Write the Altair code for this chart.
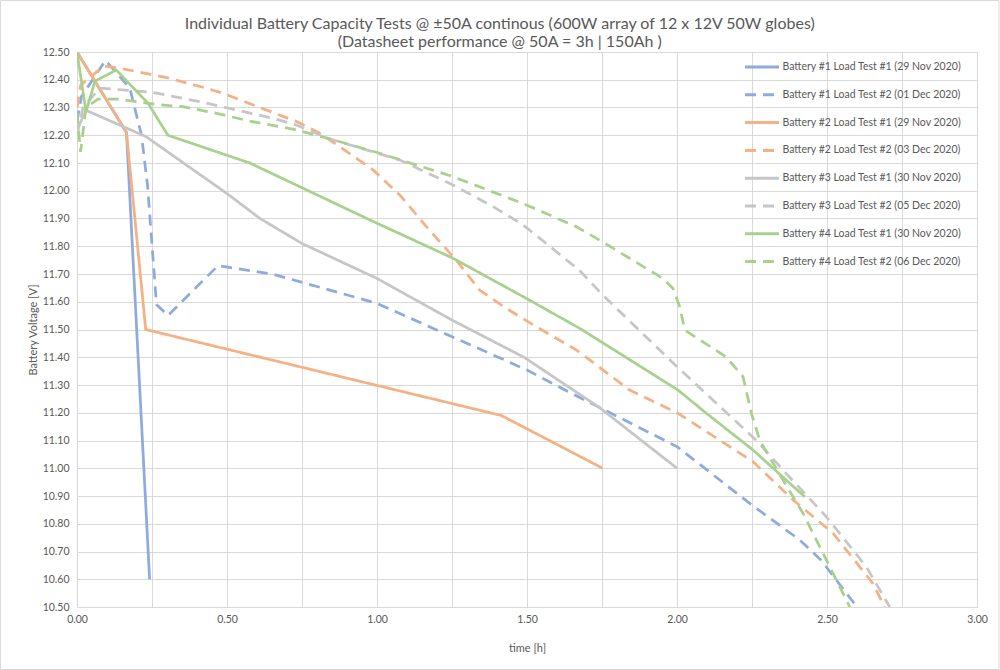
import altair as alt
import pandas as pd

series_names = [
    "Battery #1 Load Test #1 (29 Nov 2020)",
    "Battery #1 Load Test #2 (01 Dec 2020)",
    "Battery #2 Load Test #1 (29 Nov 2020)",
    "Battery #2 Load Test #2 (03 Dec 2020)",
    "Battery #3 Load Test #1 (30 Nov 2020)",
    "Battery #3 Load Test #2 (05 Dec 2020)",
    "Battery #4 Load Test #1 (30 Nov 2020)",
    "Battery #4 Load Test #2 (06 Dec 2020)",
]
series_colors = ["#8FAADC", "#8FAADC", "#F4B183", "#F4B183",
                 "#C6C6C6", "#C6C6C6", "#A9D18E", "#A9D18E"]
series_dashes = [[1, 0], [11, 7], [1, 0], [11, 7],
                 [1, 0], [11, 7], [1, 0], [11, 7]]

# Battery #1 Load Test #1
b1t1_t = [0.0, 0.165, 0.242]
b1t1_v = [12.50, 12.21, 10.60]
# Battery #1 Load Test #2
b1t2_t = [0.0, 0.015, 0.095, 0.176, 0.215, 0.235, 0.265, 0.303, 0.47, 0.65, 0.80,
          1.00, 1.25, 1.50, 1.63, 1.78, 2.00, 2.25, 2.41, 2.48, 2.60]
b1t2_v = [12.25, 12.34, 12.47, 12.37, 12.20, 12.02, 11.59, 11.55, 11.73, 11.70, 11.655,
          11.594, 11.474, 11.354, 11.28, 11.198, 11.078, 10.867, 10.741, 10.669, 10.50]
# Battery #2 Load Test #1
b2t1_t = [0.0, 0.165, 0.229, 1.415, 1.752]
b2t1_v = [12.50, 12.21, 11.50, 11.19, 11.00]
# Battery #2 Load Test #2
b2t2_t = [0.0, 0.012, 0.09, 0.15, 0.242, 0.309, 0.43, 0.49, 0.61, 0.73, 0.80, 0.876,
          0.987, 1.076, 1.165, 1.264, 1.342, 1.431, 1.531, 1.665, 1.842, 2.00, 2.253,
          2.387, 2.52, 2.653, 2.692]
b2t2_v = [12.30, 12.38, 12.45, 12.44, 12.42, 12.405, 12.37, 12.35, 12.30, 12.25, 12.213,
          12.159, 12.075, 11.985, 11.87, 11.75, 11.642, 11.576, 11.51, 11.426, 11.282,
          11.20, 11.024, 10.886, 10.766, 10.585, 10.50]
# Battery #3 Load Test #1
b3t1_t = [0.0, 0.03, 0.23, 0.50, 0.61, 0.75, 1.00, 1.15, 1.25, 1.49, 1.74, 2.00]
b3t1_v = [12.22, 12.29, 12.195, 11.99, 11.90, 11.81, 11.684, 11.594, 11.534, 11.40, 11.22, 11.00]
# Battery #3 Load Test #2
b3t2_t = [0.0, 0.02, 0.076, 0.25, 0.287, 0.409, 0.531, 0.653, 0.731, 0.837, 1.076,
          1.253, 1.387, 1.487, 1.674, 1.758, 2.00, 2.131, 2.265, 2.365, 2.498, 2.631, 2.709]
b3t2_v = [12.20, 12.30, 12.37, 12.355, 12.347, 12.321, 12.291, 12.261, 12.237, 12.189, 12.111,
          12.021, 11.943, 11.877, 11.714, 11.618, 11.366, 11.234, 11.10, 10.98, 10.825, 10.645, 10.50]
# Battery #4 Load Test #1
b4t1_t = [0.0, 0.03, 0.06, 0.131, 0.237, 0.303, 0.576, 0.976, 1.253, 1.498, 1.676,
          2.003, 2.098, 2.253, 2.426]
b4t1_v = [12.50, 12.285, 12.395, 12.435, 12.315, 12.20, 12.10, 11.895, 11.757, 11.612, 11.504,
          11.282, 11.198, 11.066, 10.897]
# Battery #4 Load Test #2
b4t2_t = [0.0, 0.012, 0.03, 0.07, 0.142, 0.265, 0.353, 0.465, 0.576, 0.72, 0.837, 1.009,
          1.253, 1.498, 1.665, 1.742, 1.953, 1.987, 2.009, 2.026, 2.165, 2.22, 2.248, 2.276,
          2.353, 2.42, 2.476, 2.576]
b4t2_v = [12.28, 12.14, 12.30, 12.33, 12.33, 12.311, 12.303, 12.279, 12.251, 12.222, 12.189, 12.135,
          12.051, 11.949, 11.87, 11.822, 11.684, 11.648, 11.582, 11.498, 11.40, 11.33, 11.198, 11.10,
          10.958, 10.838, 10.717, 10.50]

x_ticks = [0.0, 0.25, 0.5, 0.75, 1.0, 1.25, 1.5, 1.75, 2.0, 2.25, 2.5, 2.75, 3.0]
y_ticks = [10.5, 10.6, 10.7, 10.8, 10.9, 11.0, 11.1, 11.2, 11.3, 11.4, 11.5,
           11.6, 11.7, 11.8, 11.9, 12.0, 12.1, 12.2, 12.3, 12.4, 12.5]

all_t = [b1t1_t, b1t2_t, b2t1_t, b2t2_t, b3t1_t, b3t2_t, b4t1_t, b4t2_t]
all_v = [b1t1_v, b1t2_v, b2t1_v, b2t2_v, b3t1_v, b3t2_v, b4t1_v, b4t2_v]

rows = []
for name, ts, vs in zip(series_names, all_t, all_v):
    for i, (t, v) in enumerate(zip(ts, vs)):
        rows.append({"series": name, "t": t, "v": v, "idx": i})
df = pd.DataFrame(rows)

FONT = "Lato"
TXT = "#595959"
GRID = "#D9D9D9"

legend = alt.Legend(
    title=None, orient="none", legendX=666.5, legendY=-3.5,
    symbolType="stroke", symbolSize=1156, symbolStrokeWidth=3,
    labelFont=FONT, labelFontSize=10.5, labelColor=TXT, labelOffset=2,
    rowPadding=2.8, padding=0, labelLimit=400,
)

lines = alt.Chart(df).mark_line(strokeWidth=2.75, clip=True).encode(
    x=alt.X("t:Q", scale=alt.Scale(domain=[0, 3], nice=False),
            axis=alt.Axis(values=x_ticks,
                          labelExpr="abs(datum.value*2 - round(datum.value*2)) < 0.001 ? format(datum.value, '.2f') : ''",
                          title="time [h]", titleY=41, titleBaseline="middle",
                          labelPadding=7, labelFlush=False)),
    y=alt.Y("v:Q", scale=alt.Scale(domain=[10.5, 12.5], nice=False, zero=False),
            axis=alt.Axis(values=y_ticks, format=".2f", title="Battery Voltage [V]",
                          titleX=-44, titleBaseline="middle", labelPadding=8, labelFlush=False)),
    color=alt.Color("series:N", scale=alt.Scale(domain=series_names, range=series_colors), legend=legend),
    strokeDash=alt.StrokeDash("series:N", scale=alt.Scale(domain=series_names, range=series_dashes), legend=legend),
    order=alt.Order("idx:Q"),
)

border = alt.Chart(pd.DataFrame({"a": [0]})).mark_rect(
    fill="transparent", stroke=GRID, strokeWidth=1, clip=False
).encode(x=alt.value(-76.5), x2=alt.value(922), y=alt.value(-51.5), y2=alt.value(617.5))

chart = alt.layer(border, lines).properties(
    width=900, height=555,
    autosize=alt.AutoSizeParams(type="none"),
    padding={"left": 77, "top": 52, "right": 23, "bottom": 63},
    background="white",
    title=alt.TitleParams(
        text=["Individual Battery Capacity Tests @ ±50A continous (600W array of 12 x 12V 50W globes)",
              "(Datasheet performance @ 50A = 3h | 150Ah )"],
        font=FONT, fontSize=16, fontWeight="normal", color=TXT,
        anchor="middle", frame="bounds", offset=-50, lineHeight=18,
    ),
).configure_axis(
    gridColor=GRID, domainColor=GRID, ticks=False,
    labelFont=FONT, labelFontSize=10.5, labelColor=TXT,
    titleFont=FONT, titleFontSize=11, titleFontWeight="normal", titleColor=TXT,
).configure_view(strokeWidth=0)

chart.save("out.html", embed_options={"renderer": "svg", "actions": False})
